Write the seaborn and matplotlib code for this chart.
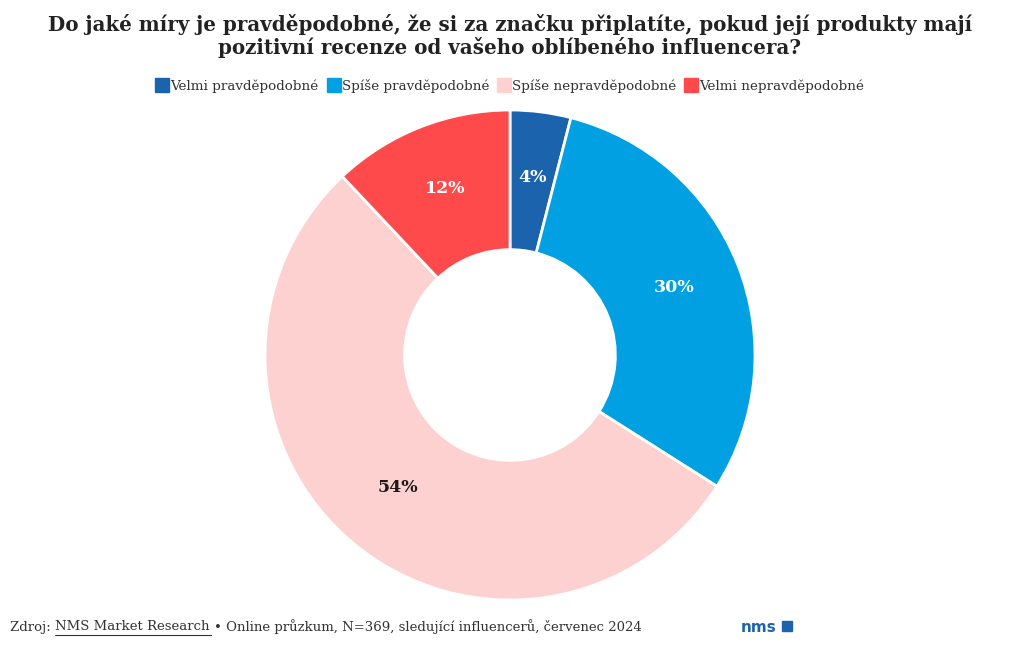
import matplotlib
matplotlib.use("Agg")
import matplotlib.pyplot as plt
from matplotlib.lines import Line2D
import seaborn as sns

# data
categories = ["Velmi pravděpodobné", "Spíše pravděpodobné",
              "Spíše nepravděpodobné", "Velmi nepravděpodobné"]
shares = [4, 30, 54, 12]
colors = ["#1c63ad", "#00a0e3", "#fdd1d0", "#ff4a4b"]
label_colors = ["white", "white", "#1a1a1a", "white"]

title = ("Do jaké míry je pravděpodobné, že si za značku připlatíte, pokud její produkty mají\n"
         "pozitivní recenze od vašeho oblíbeného influencera?")
source_name = "NMS Market Research "
source_rest = "• Online průzkum, N=369, sledující influencerů, červenec 2024"

sns.set_theme(style="white")
plt.rcParams['font.family'] = ['DejaVu Serif']

fig = plt.figure(figsize=(10.2, 6.5), dpi=100)
fig.patch.set_facecolor("white")

# axes sized so that radius 1 == 245 px, centered at (510, 355)
ax = fig.add_axes([265 / 1020, 50 / 650, 490 / 1020, 490 / 650])
wedges, texts, autotexts = ax.pie(
    shares, colors=colors, startangle=90, counterclock=False,
    radius=1.0, autopct=lambda p: f"{p:.0f}%", pctdistance=0.72,
    wedgeprops=dict(width=0.57, edgecolor="white", linewidth=2),
    textprops=dict(fontsize=12.5, fontweight="bold"))
for t, c in zip(autotexts, label_colors):
    t.set_color(c)
    px, py = t.get_position()
    t.set_position((px, py + 0.012))
ax.set_xlim(-1, 1)
ax.set_ylim(-1, 1)
ax.set_aspect("equal")
ax.axis("off")

fig.text(0.5, 1 - 36 / 650, title, ha="center", va="center", fontsize=14.3,
         fontweight="bold", color="#222222", linespacing=1.1)

handles = [Line2D([0], [0], marker="s", linestyle="", markersize=10,
                  markerfacecolor=c, markeredgecolor=c) for c in colors]
fig.legend(handles, categories, loc="center", bbox_to_anchor=(0.5, 1 - 86 / 650),
           ncol=4, frameon=False, fontsize=9.7, handletextpad=0.1,
           columnspacing=0.6, handlelength=1.0, labelcolor="#333333")

# footer with underlined source link
fig.canvas.draw()
renderer = fig.canvas.get_renderer()
y_foot = 1 - 627 / 650
t1 = fig.text(10 / 1020, y_foot, "Zdroj: ", fontsize=9.5, color="#333333", va="center")
x = t1.get_window_extent(renderer).x1 / fig.bbox.width
t2 = fig.text(x, y_foot, source_name, fontsize=9.5, color="#333333", va="center")
bb = t2.get_window_extent(renderer)
fig.add_artist(Line2D([bb.x0 / fig.bbox.width, (bb.x1 - 3) / fig.bbox.width],
                      [(bb.y0 - 1) / fig.bbox.height] * 2,
                      color="#333333", linewidth=0.8))
x = bb.x1 / fig.bbox.width
fig.text(x, y_foot, source_rest, fontsize=9.5, color="#333333", va="center")

# logo
fig.text(741 / 1020, y_foot, "nms", fontsize=11, fontweight="bold",
         color="#1c63ad", va="center", family="DejaVu Sans")
fig.patches.append(plt.Rectangle((782 / 1020, 1 - 631 / 650), 10 / 1020, 10 / 650,
                                 transform=fig.transFigure, color="#1c63ad"))

fig.savefig("out.png", dpi=100, facecolor="white")
